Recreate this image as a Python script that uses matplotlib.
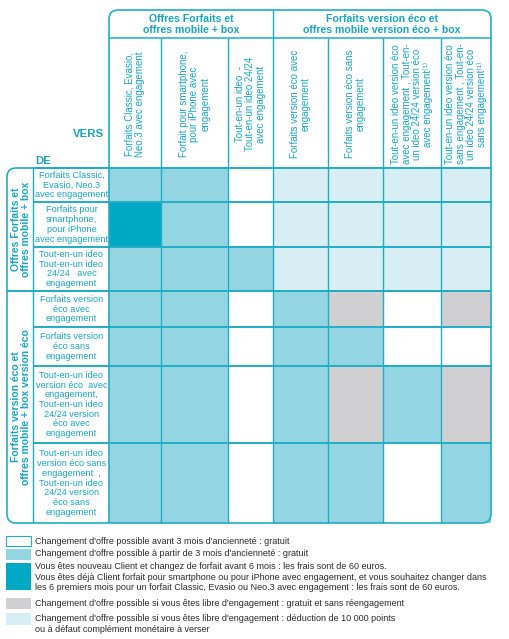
import matplotlib.pyplot as plt
import numpy as np
from matplotlib.colors import ListedColormap
from matplotlib.path import Path
from matplotlib.patches import PathPatch, Rectangle

plt.rcParams['font.family'] = ['Liberation Sans', 'DejaVu Sans']

# --- data -------------------------------------------------------------
col_groups = ["Offres Forfaits et\noffres mobile + box",
              "Forfaits version éco et\noffres mobile version éco + box"]
row_groups = ["Offres Forfaits et\noffres mobile + box",
              "Forfaits version éco et\noffres mobile + box version éco"]

col_labels = [
    "Forfaits Classic, Evasio,\nNeo.3 avec engagement",
    "Forfait pour smartphone,\npour iPhone avec\nengagement",
    "Tout-en-un ideo  -\nTout-en-un ideo 24/24\navec engagement",
    "Forfaits version éco avec\nengagement",
    "Forfaits version éco sans\nengagement",
    "Tout-en-un ideo version éco\navec engagement , Tout-en-\nun ideo 24/24 version éco\navec engagement⁽¹⁾",
    "Tout-en-un ideo version éco\nsans engagement , Tout-en-\nun ideo 24/24 version éco\nsans engagement⁽¹⁾",
]
row_labels = [
    "Forfaits Classic,\nEvasio, Neo.3\navec engagement",
    "Forfaits pour\nsmartphone,\npour iPhone\navec engagement",
    "Tout-en-un ideo\nTout-en-un ideo\n24/24   avec\nengagement",
    "Forfaits version\néco avec\nengagement",
    "Forfaits version\néco sans\nengagement",
    "Tout-en-un ideo\nversion éco  avec\nengagement,\nTout-en-un ideo\n24/24 version\néco avec\nengagement",
    "Tout-en-un ideo\nversion éco sans\nengagement  ,\nTout-en-un ideo\n24/24 version\néco sans\nengagement",
]

# 0 = avant 3 mois, 1 = a partir de 3 mois, 2 = 60 euros,
# 3 = libre d'engagement gratuit, 4 = deduction 10 000 points
cells = [
    [1, 1, 0, 4, 4, 4, 4],
    [2, 1, 0, 4, 4, 4, 4],
    [1, 1, 1, 4, 4, 4, 4],
    [1, 1, 0, 1, 3, 0, 3],
    [1, 1, 0, 1, 1, 0, 0],
    [1, 1, 0, 1, 3, 1, 3],
    [1, 1, 0, 1, 1, 0, 1],
]

legend_texts = [
    "Changement d'offre possible avant 3 mois d'ancienneté : gratuit",
    "Changement d'offre possible à partir de 3 mois d'ancienneté : gratuit",
    "Vous êtes nouveau Client et changez de forfait avant 6 mois : les frais sont de 60 euros.\n"
    "Vous êtes déjà Client forfait pour smartphone ou pour iPhone avec engagement, et vous souhaitez changer dans\n"
    "les 6 premiers mois pour un forfait Classic, Evasio ou Neo.3 avec engagement : les frais sont de 60 euros.",
    "Changement d'offre possible si vous êtes libre d'engagement : gratuit et sans réengagement",
    "Changement d'offre possible si vous êtes libre d'engagement : déduction de 10 000 points\n"
    "ou à défaut complément monétaire à verser",
]

# --- style / layout ---------------------------------------------------
colors = ['#ffffff', '#93d5e3', '#00a9c3', '#d0d0d2', '#d6eef4']
line_c = '#22adc5'
text_c = '#1ba3bd'

col_edges = [109, 161, 228, 273, 328, 383, 441, 491]
row_edges = [168, 202, 247, 291, 327, 366, 443, 523]
group_top = 10
group_bottom = 38
lab_x0, lab_x1 = 7, 33

fig = plt.figure(figsize=(5.1, 6.39), dpi=100)
ax = fig.add_axes([0, 0, 1, 1])
ax.set_xlim(0, 510)
ax.set_ylim(639, 0)
ax.axis('off')

cmap = ListedColormap(colors)
ax.pcolormesh(col_edges, row_edges, np.array(cells), cmap=cmap,
              vmin=-0.5, vmax=len(colors) - 0.5)

# internal grid lines
ax.hlines(row_edges[:-1], lab_x1, col_edges[-1], color=line_c, lw=1.4)
ax.hlines(row_edges[3], lab_x0, col_edges[-1], color=line_c, lw=1.4)
ax.hlines(group_bottom, col_edges[0], col_edges[-1], color=line_c, lw=1.1)
ax.vlines(col_edges[1:-1], group_bottom, row_edges[-1], color=line_c, lw=1.0)
ax.vlines(col_edges[3], group_top, group_bottom, color=line_c, lw=1.0)
ax.vlines(lab_x1, row_edges[0], row_edges[-1], color=line_c, lw=1.0)


def rounded_outline(pts, r):
    verts, codes = [pts[0]], [Path.MOVETO]
    for i in range(1, len(pts) - 1):
        p0, p1, p2 = map(np.array, (pts[i - 1], pts[i], pts[i + 1]))
        d0 = (p0 - p1) / np.linalg.norm(p0 - p1)
        d2 = (p2 - p1) / np.linalg.norm(p2 - p1)
        verts += [tuple(p1 + d0 * r), tuple(p1), tuple(p1 + d2 * r)]
        codes += [Path.LINETO, Path.CURVE3, Path.CURVE3]
    verts.append(pts[-1])
    codes.append(Path.LINETO)
    return Path(verts, codes)


outline = [(col_edges[0], row_edges[-1] - 0.01), (col_edges[0], group_top),
           (col_edges[-1], group_top), (col_edges[-1], row_edges[-1]),
           (lab_x0, row_edges[-1]), (lab_x0, row_edges[0]),
           (col_edges[0], row_edges[0])]
ax.add_patch(PathPatch(rounded_outline(outline, 9), fill=False,
                       ec=line_c, lw=1.2))

# group headers
for i, txt in enumerate(col_groups):
    xc = (col_edges[0] + col_edges[3]) / 2 if i == 0 else (col_edges[3] + col_edges[-1]) / 2
    ax.text(xc, (group_top + group_bottom) / 2 + 0.5, txt, ha='center', va='center',
            color=text_c, fontsize=7.6, fontweight='bold', linespacing=1.2)

for i, txt in enumerate(row_groups):
    yc = (row_edges[0] + row_edges[3]) / 2 if i == 0 else (row_edges[3] + row_edges[-1]) / 2
    ax.text((lab_x0 + lab_x1) / 2 + 1, yc, txt, ha='center', va='center',
            rotation=90, color=text_c, fontsize=7.5, fontweight='bold',
            linespacing=1.1)

# column labels
for i, txt in enumerate(col_labels):
    xc = (col_edges[i] + col_edges[i + 1]) / 2
    ax.text(xc, 104, txt, ha='center', va='center', rotation=90,
            multialignment='center', color=text_c, fontsize=7.0,
            linespacing=1.1)

# row labels
for i, txt in enumerate(row_labels):
    yc = (row_edges[i] + row_edges[i + 1]) / 2
    ax.text((lab_x1 + col_edges[0]) / 2 + 0.5, yc, txt, ha='center', va='center',
            multialignment='center', color=text_c, fontsize=6.6,
            linespacing=1.1)

ax.text(104, 134, "VERS", ha='right', va='center', color=text_c,
        fontsize=8.2, fontweight='bold')
ax.text(35, 161, "DE", ha='left', va='center', color=text_c,
        fontsize=8.2, fontweight='bold')

# legend
swatch_y = [(536, 546), (549, 560), (563, 590), (598, 609), (613, 625)]
text_y = [541, 554, 577, 604, 624]
for (y0, y1), c, ty, txt in zip(swatch_y, colors, text_y, legend_texts):
    ax.add_patch(Rectangle((6, y0), 25, y1 - y0, fc=c,
                           ec=line_c if c == '#ffffff' else 'none', lw=0.8))
    ax.text(35, ty, txt, ha='left', va='center', color='#2a2a2a',
            fontsize=6.5, linespacing=1.2)

fig.savefig('out.png', dpi=100)
